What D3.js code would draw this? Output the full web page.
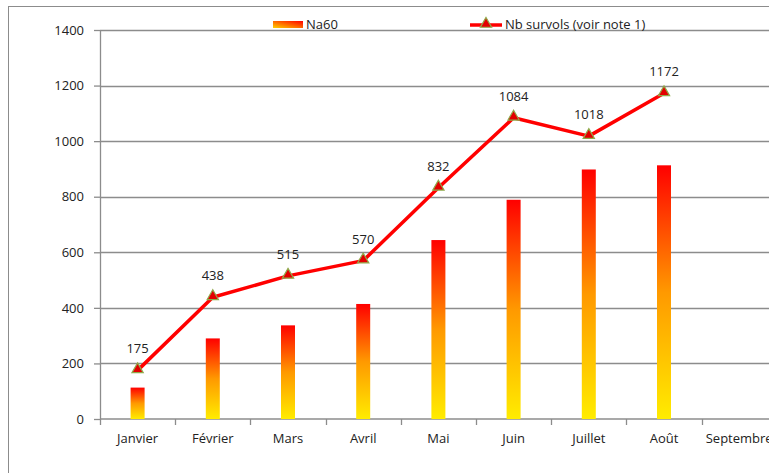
<!DOCTYPE html>
<html>
<head>
<meta charset="utf-8">
<script src="https://cdn.jsdelivr.net/npm/d3@7"></script>
<style>
  body { margin: 0; background: #fff; }
  text { font-family: "Open Sans", "Noto Sans", sans-serif; fill: #222; }
</style>
</head>
<body>
<div id="chart"></div>
<script>
// data
var months = ["Janvier", "Février", "Mars", "Avril", "Mai", "Juin", "Juillet", "Août", "Septembre"];
var na60 = [113, 290, 337, 414, 644, 789, 898, 913];
var survols = [175, 438, 515, 570, 832, 1084, 1018, 1172];
var yTicks = [0, 200, 400, 600, 800, 1000, 1200, 1400];

var W = 769, H = 473;
var margin = {top: 30, left: 100, bottom: 54};
var plotH = H - margin.top - margin.bottom;

var svg = d3.select("#chart").append("svg")
    .attr("width", W)
    .attr("height", H);

// gradient for the bars, yellow at the bottom, red on top
var grad = svg.append("defs").append("linearGradient")
    .attr("id", "barGrad")
    .attr("x1", 0).attr("y1", 1).attr("x2", 0).attr("y2", 0);
grad.append("stop").attr("offset", "0%").attr("stop-color", "#ffec00");
grad.append("stop").attr("offset", "50%").attr("stop-color", "#ff9900");
grad.append("stop").attr("offset", "100%").attr("stop-color", "#ff0000");

var legGrad = svg.select("defs").append("linearGradient")
    .attr("id", "legGrad")
    .attr("x1", 0).attr("y1", 1).attr("x2", 1).attr("y2", 0);
legGrad.append("stop").attr("offset", "0%").attr("stop-color", "#ffd000");
legGrad.append("stop").attr("offset", "100%").attr("stop-color", "#ff0000");

// outer frame
svg.append("rect")
    .attr("x", 8.5).attr("y", 6.5)
    .attr("width", W).attr("height", H)
    .attr("fill", "none")
    .attr("stroke", "#8c8c8c");

// band scale keeps going past the right edge (chart is cropped there)
var x = d3.scaleBand()
    .domain(months)
    .range([margin.left, margin.left + 75.2 * months.length]);

var y = d3.scaleLinear()
    .domain([0, 1400])
    .range([margin.top + plotH, margin.top]);

// grid lines
svg.append("g")
    .selectAll("line")
    .data(yTicks.slice(1))
    .enter()
    .append("line")
    .attr("x1", margin.left)
    .attr("x2", W)
    .attr("y1", d => Math.round(y(d)) + 0.5)
    .attr("y2", d => Math.round(y(d)) + 0.5)
    .attr("stroke", "#8c8c8c")
    .attr("stroke-width", 1.3);

// Y axis
var yAxis = svg.append("g")
    .attr("transform", "translate(" + margin.left + ",0)")
    .call(d3.axisLeft(y).tickValues(yTicks).tickFormat(d3.format("d"))
        .tickSize(6).tickPadding(10).tickSizeOuter(0));
yAxis.select(".domain").attr("stroke", "#8c8c8c").attr("stroke-width", 1.3);
yAxis.selectAll(".tick line").attr("stroke", "#8c8c8c").attr("stroke-width", 1.3);
yAxis.selectAll("text").style("font-size", "13px").attr("fill", "#222");

// X axis with ticks between the categories
var xAxisG = svg.append("g")
    .attr("transform", "translate(0," + y(0) + ")");
xAxisG.append("line")
    .attr("x1", margin.left).attr("x2", W)
    .attr("stroke", "#8c8c8c").attr("stroke-width", 1.5);
xAxisG.selectAll(".tk")
    .data(months)
    .enter()
    .append("line")
    .attr("class", "tk")
    .attr("x1", d => Math.round(x(d)) + 0.5)
    .attr("x2", d => Math.round(x(d)) + 0.5)
    .attr("y1", 0).attr("y2", 6)
    .attr("stroke", "#8c8c8c").attr("stroke-width", 1.3);
xAxisG.selectAll(".lbl")
    .data(months)
    .enter()
    .append("text")
    .attr("class", "lbl")
    .attr("x", d => x(d) + x.bandwidth() / 2)
    .attr("y", 24)
    .attr("text-anchor", "middle")
    .style("font-size", "13px")
    .text(d => d);

// bars
var barW = 14;
svg.append("g")
    .selectAll("rect")
    .data(na60)
    .enter()
    .append("rect")
    .attr("x", (d, i) => x(months[i]) + x.bandwidth() / 2 - barW / 2)
    .attr("y", d => y(d))
    .attr("width", barW)
    .attr("height", d => y(0) - y(d))
    .attr("fill", "url(#barGrad)");

// line
var line = d3.line()
    .x((d, i) => x(months[i]) + x.bandwidth() / 2)
    .y(d => y(d));
svg.append("path")
    .datum(survols)
    .attr("d", line)
    .attr("fill", "none")
    .attr("stroke", "#ff0000")
    .attr("stroke-width", 3.5)
    .attr("stroke-linejoin", "round");

var tri = d3.symbol().type(d3.symbolTriangle).size(55);
svg.append("g")
    .selectAll("path")
    .data(survols)
    .enter()
    .append("path")
    .attr("d", tri)
    .attr("transform", (d, i) => "translate(" + (x(months[i]) + x.bandwidth() / 2) + "," + (y(d) - 1) + ")")
    .attr("fill", "#e30000")
    .attr("stroke", "#8fa94a")
    .attr("stroke-width", 1.2);

// value labels
svg.append("g")
    .selectAll("text")
    .data(survols)
    .enter()
    .append("text")
    .attr("x", (d, i) => x(months[i]) + x.bandwidth() / 2)
    .attr("y", d => y(d) - 17)
    .attr("text-anchor", "middle")
    .style("font-size", "13px")
    .text(d => d);

// legend
var leg = svg.append("g");
leg.append("rect")
    .attr("x", 273).attr("y", 21)
    .attr("width", 30).attr("height", 7)
    .attr("fill", "url(#legGrad)");
leg.append("text")
    .attr("x", 306).attr("y", 29)
    .style("font-size", "13px")
    .text("Na60");
leg.append("line")
    .attr("x1", 470).attr("x2", 502)
    .attr("y1", 25).attr("y2", 25)
    .attr("stroke", "#ff0000").attr("stroke-width", 3.5);
leg.append("path")
    .attr("d", tri)
    .attr("transform", "translate(486,24)")
    .attr("fill", "#e30000")
    .attr("stroke", "#8fa94a")
    .attr("stroke-width", 1.2);
leg.append("text")
    .attr("x", 505).attr("y", 29)
    .style("font-size", "13px")
    .text("Nb survols (voir note 1)");
</script>
</body>
</html>
